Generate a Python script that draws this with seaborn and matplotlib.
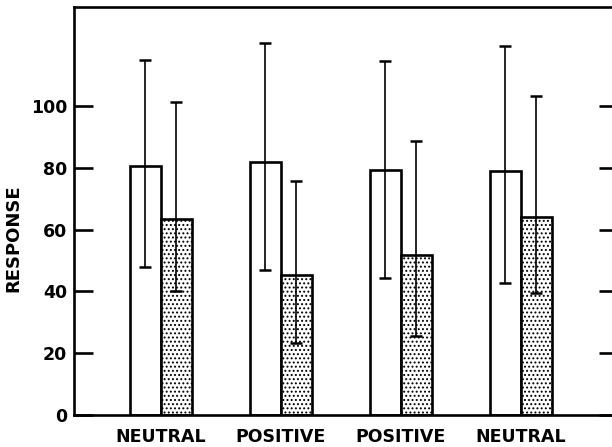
import matplotlib
matplotlib.use("Agg")
import matplotlib.pyplot as plt
import seaborn as sns
import pandas as pd
import numpy as np

# ---- data ----
groups = ["G1", "G2", "G3", "G4"]
group_labels = ["NEUTRAL", "POSITIVE", "POSITIVE", "NEUTRAL"]
series = ["open", "stippled"]
open_means = [80.6, 81.7, 79.2, 79.0]
open_err_hi = [114.8, 120.2, 114.5, 119.3]
open_err_lo = [48.0, 47.0, 44.2, 42.8]
stip_means = [63.4, 45.3, 51.8, 63.9]
stip_err_hi = [101.4, 75.8, 88.8, 103.3]
stip_err_lo = [40.0, 23.2, 25.4, 39.4]
yticks = [0, 20, 40, 60, 80, 100]

sns.set_style("ticks")
plt.rcParams["font.family"] = ["DejaVu Sans"]
plt.rcParams["hatch.color"] = "black"
plt.rcParams["hatch.linewidth"] = 0.9

df = pd.DataFrame({
    "group": groups * 2,
    "series": [series[0]] * 4 + [series[1]] * 4,
    "response": open_means + stip_means,
})

fig = plt.figure(figsize=(6.12, 4.47), dpi=100)
ax = fig.add_axes([74 / 612, 32 / 447, 544 / 612, 408 / 447])

sns.barplot(data=df, x="group", y="response", hue="series", order=groups,
            hue_order=series, palette=["white", "white"], edgecolor="black",
            linewidth=1.9, width=0.52, gap=0, errorbar=None, legend=False,
            saturation=1, ax=ax)

bar_containers = list(ax.containers)
for bar in bar_containers[1]:
    bar.set_hatch("....")

his = [open_err_hi, stip_err_hi]
los = [open_err_lo, stip_err_lo]
means = [open_means, stip_means]
for k, cont in enumerate(bar_containers):
    xs = [b.get_x() + b.get_width() / 2 for b in cont]
    m = np.array(means[k])
    yerr = [m - np.array(los[k]), np.array(his[k]) - m]
    ax.errorbar(xs, m, yerr=yerr, fmt="none", ecolor="black",
                elinewidth=1.2, capsize=4.5, capthick=1.8, zorder=5)

ax.set_xlim(-0.723, 3.81)
ax.set_ylim(0, 132)
ax.set_yticks(yticks)
ax.set_yticklabels([str(v) for v in yticks], fontsize=12.5,
                   fontweight="bold", color="black")
ax.set_xticks(range(len(groups)))
ax.set_xticklabels(group_labels, fontsize=12.5, fontweight="bold",
                   color="black")
ax.set_xlabel("")
ax.set_ylabel("RESPONSE", fontsize=13, fontweight="bold", color="black")
ax.yaxis.set_label_coords(-0.0956, 0.434)

for s in ["left", "bottom", "top"]:
    ax.spines[s].set_linewidth(1.9)
    ax.spines[s].set_color("black")
ax.spines["right"].set_visible(False)

ax.tick_params(axis="y", which="both", direction="in", length=14, width=1.9,
               left=True, right=True, labelright=False, pad=5, colors="black")
ax.tick_params(axis="x", length=0, pad=9, colors="black")

fig.savefig("out.png", dpi=100)
